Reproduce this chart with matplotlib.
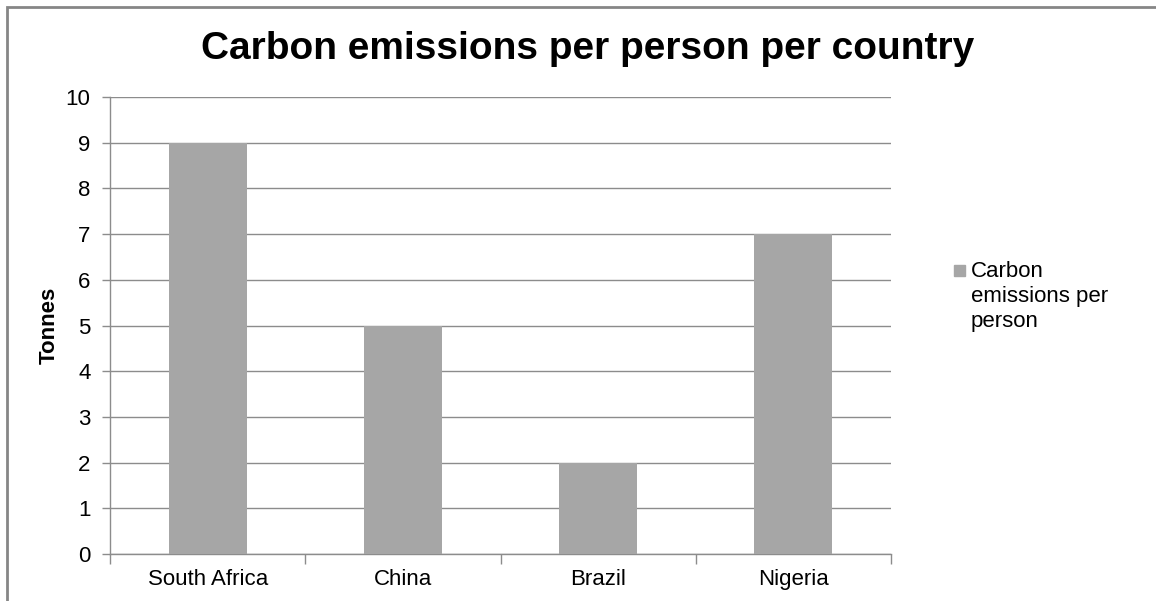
import matplotlib.pyplot as plt
from matplotlib.patches import Rectangle

countries = ["South Africa", "China", "Brazil", "Nigeria"]
tonnes = [9, 5, 2, 7]
series_lines = ["Carbon", "emissions per", "person"]

plt.rcParams['font.family'] = ['Liberation Sans', 'DejaVu Sans']

BAR = '#a6a6a6'
LINE = '#8c8c8c'
W, H = 1156, 601

fig = plt.figure(figsize=(W / 100, H / 100), dpi=100)
ax = fig.add_axes([110 / W, 1 - 554 / H, 781 / W, 457 / H])

x = range(len(countries))
ax.bar(x, tonnes, width=0.4, color=BAR, zorder=3)

ax.set_xlim(-0.5, len(countries) - 0.5)
ax.set_ylim(0, 10)
ax.set_yticks(range(0, 11))
ax.yaxis.grid(True, color=LINE, linewidth=1)
ax.set_axisbelow(True)

ax.set_xticks(list(x))
ax.set_xticklabels(countries, fontsize=16)
ax.set_xticks([i - 0.5 for i in range(len(countries) + 1)], minor=True)
ax.tick_params(axis='x', which='major', length=0, pad=11)
ax.tick_params(axis='x', which='minor', length=7, color=LINE, width=1)
ax.tick_params(axis='y', length=6, color=LINE, width=1, labelsize=16, pad=8)

for side in ('top', 'right'):
    ax.spines[side].set_visible(False)
for side in ('left', 'bottom'):
    ax.spines[side].set_color(LINE)
    ax.spines[side].set_linewidth(1)

fig.text(49 / W, 1 - 325 / H, "Tonnes", rotation=90, ha='center', va='center',
         fontsize=16, fontweight='bold')

fig.text(588 / W, 1 - 59 / H, "Carbon emissions per person per country",
         ha='center', va='baseline', fontsize=28, fontweight='bold')

# legend drawn by hand: square key plus wrapped label
fig.patches.append(Rectangle((954 / W, 1 - 276 / H), 11 / W, 11 / H,
                             transform=fig.transFigure, color=BAR))
for i, line in enumerate(series_lines):
    fig.text(971 / W, 1 - (277 + 25 * i) / H, line,
             ha='left', va='baseline', fontsize=16)

# chart frame
fig.patches.append(Rectangle((7 / W, -0.1), 1.2, 1 - 6.5 / H + 0.1,
                             transform=fig.transFigure, fill=False,
                             edgecolor='#868686', linewidth=2))

fig.savefig("out.png", dpi=100)
